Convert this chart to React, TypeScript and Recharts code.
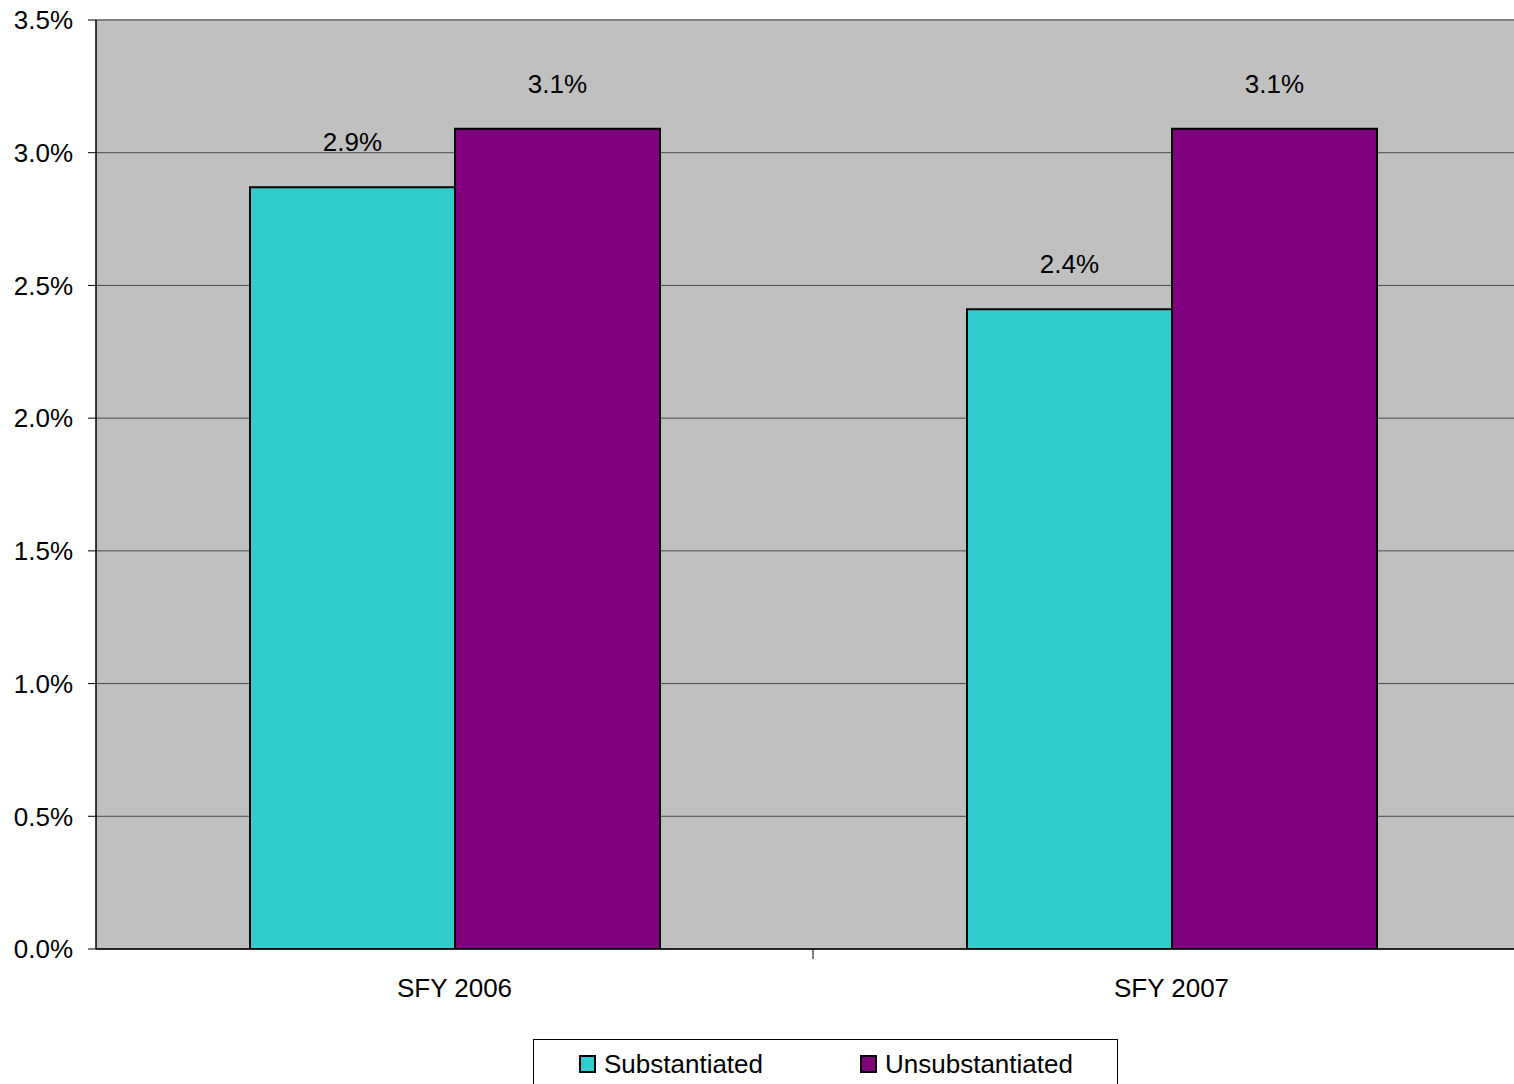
import { BarChart, Bar, XAxis, YAxis, CartesianGrid, Legend, LabelList, ReferenceLine } from "recharts";

const years = ["SFY 2006", "SFY 2007"];
const substantiated = [2.87, 2.41];
const unsubstantiated = [3.09, 3.09];
const yTicks = [0, 0.5, 1, 1.5, 2, 2.5, 3, 3.5];

const data = years.map((year, i) => ({
  year,
  Substantiated: substantiated[i],
  Unsubstantiated: unsubstantiated[i],
}));

const FONT = "'Liberation Sans', Arial, sans-serif";
const pct = (v: number) => `${v.toFixed(1)}%`;

function CategoryTick(props: any) {
  const { x, y, payload, index, width, visibleTicksCount } = props;
  const band = width / visibleTicksCount;
  return (
    <g>
      <text x={x} y={y + 48} textAnchor="middle" fontSize={26} fontFamily={FONT} fill="#000">
        {payload.value}
      </text>
      {index < visibleTicksCount - 1 && (
        <line x1={x + band / 2} x2={x + band / 2} y1={y} y2={y + 10} stroke="#000" strokeWidth={1} />
      )}
    </g>
  );
}

function LegendBox(props: any) {
  const items = props.payload || [];
  const lefts = [45, 326];
  return (
    <div
      style={{
        position: "relative",
        width: 585,
        height: 70,
        boxSizing: "border-box",
        border: "1px solid #000",
        background: "#fff",
        fontFamily: FONT,
        fontSize: 26,
        color: "#000",
      }}
    >
      {items.map((it: any, i: number) => (
        <div
          key={it.value}
          style={{ position: "absolute", left: lefts[i], top: 10, display: "flex", alignItems: "center", lineHeight: "28px" }}
        >
          <span
            style={{
              display: "inline-block",
              width: 13,
              height: 14,
              background: it.color,
              border: "2px solid #000",
              marginRight: 8,
            }}
          />
          <span>{it.value}</span>
        </div>
      ))}
    </div>
  );
}

export default function App() {
  return (
    <div style={{ position: "absolute", left: 0, top: 0, width: 1514, height: 1084, overflow: "hidden", background: "#fff" }}>
      <BarChart
        width={1530}
        height={1110}
        data={data}
        margin={{ top: 20, right: 0, left: 0, bottom: 0 }}
        barGap={0}
        barSize={205}
      >
        <CartesianGrid vertical={false} stroke="#4a4a4a" fill="#C0C0C0" />
        <XAxis
          dataKey="year"
          height={91}
          axisLine={{ stroke: "#000", strokeWidth: 1.5 }}
          tickLine={false}
          tickSize={0}
          tickMargin={0}
          tick={<CategoryTick />}
          interval={0}
        />
        <YAxis
          width={96}
          domain={[0, 3.5]}
          ticks={yTicks}
          tickFormatter={pct}
          axisLine={{ stroke: "#000", strokeWidth: 1.5 }}
          tickLine={{ stroke: "#000" }}
          tickSize={8}
          tickMargin={15}
          tick={{ fontSize: 26, fontFamily: FONT, fill: "#000" }}
          allowDataOverflow
        />
        <ReferenceLine y={3.5} stroke="#808080" strokeWidth={2} />
        <Legend
          verticalAlign="bottom"
          height={70}
          width={585}
          wrapperStyle={{ left: 533, top: 1039, bottom: "auto" }}
          content={<LegendBox />}
        />
        <Bar dataKey="Substantiated" fill="#33CCCC" stroke="#000" strokeWidth={2} isAnimationActive={false}>
          <LabelList
            dataKey="Substantiated"
            position="top"
            offset={36}
            formatter={(v: any) => pct(Number(v))}
            style={{ fontSize: 26, fontFamily: FONT, fill: "#000" }}
          />
        </Bar>
        <Bar dataKey="Unsubstantiated" fill="#800080" stroke="#000" strokeWidth={2} isAnimationActive={false}>
          <LabelList
            dataKey="Unsubstantiated"
            position="top"
            offset={36}
            formatter={(v: any) => pct(Number(v))}
            style={{ fontSize: 26, fontFamily: FONT, fill: "#000" }}
          />
        </Bar>
      </BarChart>
    </div>
  );
}
